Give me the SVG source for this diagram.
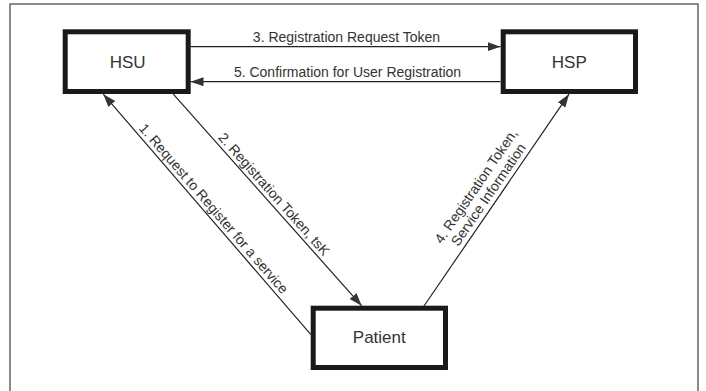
<svg xmlns="http://www.w3.org/2000/svg" width="706" height="391" viewBox="0 0 706 391">
<defs>
<style>
.box{fill:#fff;stroke:#1a1a1a;stroke-width:5}
.name{font-family:"Liberation Sans",Arial,sans-serif;font-size:17px;fill:#333;text-anchor:middle}
.lbl{font-family:"Liberation Sans",Arial,sans-serif;font-size:14px;fill:#333;text-anchor:middle}
.conn{stroke:#222;stroke-width:1.2;fill:none;marker-end:url(#ah)}
</style>
<marker id="ah" markerUnits="userSpaceOnUse" markerWidth="14" markerHeight="10" refX="13" refY="4.5" orient="auto">
<path d="M0,0 L13,4.5 L0,9 z" fill="#333"/>
</marker>
</defs>
<rect x="0" y="0" width="706" height="391" fill="#fff"/>
<rect x="10" y="4" width="688" height="400" fill="none" stroke="#666" stroke-width="1.5"/>
<g id="connectors">
<g id="c3"><line class="conn" x1="190.5" y1="46.7" x2="500.5" y2="46.7"/><text class="lbl" x="346.5" y="41.7">3. Registration Request Token</text></g>
<g id="c5"><line class="conn" x1="500.5" y1="81.7" x2="190.5" y2="81.7"/><text class="lbl" x="347.5" y="76.7">5. Confirmation for User Registration</text></g>
<g id="c1"><line class="conn" x1="310.7" y1="334.3" x2="103.3" y2="94.2"/><text class="lbl" transform="translate(207,214.3) rotate(49.2)" x="0" y="-4">1. Request to Register for a service</text></g>
<g id="c2"><line class="conn" x1="173.3" y1="94.2" x2="361.7" y2="305.8"/><text class="lbl" transform="translate(267.5,200) rotate(48.3)" x="0" y="-4">2. Registration Token, tsK</text></g>
<g id="c4"><line class="conn" x1="424" y1="306" x2="569" y2="94.2"/><text class="lbl" transform="translate(496.5,200.1) rotate(-55.6)"><tspan x="0" y="-20">4. Registration Token,</tspan><tspan x="0" y="-5">Service Information</tspan></text></g>
</g>
<g id="HSU"><rect class="box" x="65.2" y="31.8" width="123" height="59.7"/><text class="name" x="127.7" y="68.3">HSU</text></g>
<g id="HSP"><rect class="box" x="503.2" y="31.8" width="132.3" height="59.7"/><text class="name" x="569.3" y="68.3">HSP</text></g>
<g id="Patient"><rect class="box" x="313.2" y="308.2" width="132.3" height="59.3"/><text class="name" x="379.3" y="342.7">Patient</text></g>
</svg>
